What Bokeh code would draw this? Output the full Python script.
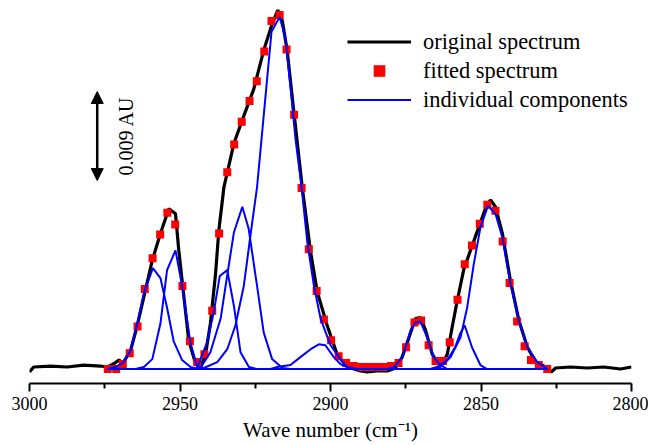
from math import pi
from bokeh.plotting import figure
from bokeh.models import Range1d, FixedTicker, Legend, LegendItem, Arrow, NormalHead, Label
from bokeh.embed import file_html
from bokeh.resources import INLINE

# ---------------- data (wavenumber cm-1, absorbance AU) ----------------
orig_wn = [3000.0, 2998.6, 2993.0, 2987.5, 2982.0, 2976.4, 2974.2, 2972.1, 2970.3, 2968.9,
           2966.4, 2964.2, 2962.0, 2959.2, 2956.5, 2953.7, 2951.5, 2950.4, 2948.7, 2947.1,
           2944.8, 2943.2, 2941.5, 2939.9, 2938.2, 2937.1, 2935.4, 2932.1, 2928.8, 2925.5,
           2922.2, 2919.4, 2917.5, 2916.0, 2914.4, 2912.2, 2909.4, 2906.6, 2904.4, 2901.1,
           2897.8, 2895.5, 2893.3, 2890.0, 2887.8, 2884.5, 2881.1, 2878.4, 2876.2, 2873.9,
           2871.8, 2870.1, 2868.4, 2866.2, 2864.5, 2862.9, 2861.2, 2859.6, 2857.9, 2855.7,
           2852.9, 2850.2, 2848.2, 2846.8, 2845.2, 2842.9, 2840.2, 2837.4, 2834.6, 2831.8,
           2828.5, 2826.7, 2825.2, 2820.3, 2814.7, 2809.2, 2803.7, 2800.0]
orig_abs = [-0.0003, 0.0002, 0.0003, 0.0002, 0.0004, 0.0003, 0.0002, 0.0005, 0.0009, 0.0006,
            0.0019, 0.0044, 0.0073, 0.0110, 0.0137, 0.0162, 0.0157, 0.0120, 0.0073, 0.0029,
            0.0005, 0.0001, 0.0015, 0.0046, 0.0096, 0.0140, 0.0184, 0.0228, 0.0256, 0.0283,
            0.0322, 0.0349, 0.0363, 0.0352, 0.0322, 0.0261, 0.0184, 0.0118, 0.0078, 0.0044,
            0.0015, 0.0006, 0.0001, -0.0002, -0.0003, -0.0002, -0.0002, 0.0001, 0.0012, 0.0032,
            0.0051, 0.0052, 0.0039, 0.0015, 0.0007, 0.0005, 0.0015, 0.0042, 0.0069, 0.0101,
            0.0125, 0.0148, 0.0165, 0.0171, 0.0164, 0.0137, 0.0089, 0.0049, 0.0022, 0.0007,
            0.0002, -0.0003, 0.0001, 0.0002, 0.0001, 0.0002, 0.0000, 0.0002]

fit_wn = [2974.0, 2971.2, 2969.0, 2966.7, 2964.1, 2961.7, 2959.1, 2956.6, 2954.2, 2951.6,
          2949.2, 2946.7, 2944.3, 2941.9, 2939.3, 2937.0, 2934.3, 2932.0, 2929.5, 2926.9,
          2924.5, 2922.0, 2919.6, 2916.9, 2914.6, 2912.1, 2909.6, 2907.2, 2904.6, 2902.2,
          2899.8, 2897.3, 2894.8, 2892.3, 2889.8, 2887.4, 2884.9, 2882.4, 2879.9, 2877.4,
          2874.9, 2872.1, 2869.9, 2867.4, 2865.1, 2862.6, 2860.4, 2857.8, 2855.4, 2853.0,
          2850.4, 2847.9, 2845.2, 2842.8, 2840.5, 2838.0, 2835.5, 2833.4, 2830.8, 2828.0]
fit_abs = [0.0000, 0.0000, 0.0005, 0.0016, 0.0043, 0.0081, 0.0112, 0.0136, 0.0158, 0.0146,
           0.0084, 0.0028, 0.0007, 0.0015, 0.0059, 0.0137, 0.0199, 0.0227, 0.0250, 0.0271,
           0.0291, 0.0321, 0.0352, 0.0358, 0.0323, 0.0257, 0.0183, 0.0121, 0.0079, 0.0050,
           0.0029, 0.0013, 0.0006, 0.0003, 0.0002, 0.0002, 0.0002, 0.0002, 0.0003, 0.0006,
           0.0022, 0.0047, 0.0049, 0.0024, 0.0008, 0.0008, 0.0027, 0.0070, 0.0106, 0.0125,
           0.0147, 0.0166, 0.0160, 0.0129, 0.0087, 0.0048, 0.0023, 0.0009, 0.0004, 0.0000]

comp1_wn = [2974.2, 2971.4, 2968.7, 2966.4, 2964.2, 2962.0, 2959.0, 2956.5, 2954.3, 2952.1, 2949.3, 2946.5, 2944.3, 2828.0]
comp1_abs = [0.0, 0.0002, 0.0007, 0.0019, 0.0046, 0.0077, 0.0102, 0.0092, 0.0062, 0.0028, 0.0009, 0.0002, 0.0, 0.0]

comp2_wn = [2974.1, 2964.8, 2962.0, 2959.2, 2956.5, 2954.3, 2951.5, 2949.3, 2946.5, 2944.3, 2941.9, 2828.0]
comp2_abs = [0.0, 0.0, 0.0002, 0.0010, 0.0046, 0.0100, 0.0120, 0.0084, 0.0026, 0.0002, 0.0, 0.0]

comp3_wn = [2974.1, 2946.5, 2944.3, 2941.0, 2938.8, 2936.8, 2934.3, 2932.1, 2929.9, 2927.1, 2924.6, 2828.0]
comp3_abs = [0.0, 0.0, 0.0001, 0.0027, 0.0057, 0.0094, 0.0100, 0.0064, 0.0017, 0.0002, 0.0, 0.0]

comp4_wn = [2974.1, 2944.3, 2943.2, 2939.9, 2936.5, 2934.6, 2932.1, 2929.3, 2927.2, 2924.4, 2922.2, 2919.4, 2916.0, 2913.3, 2828.0]
comp4_abs = [0.0, 0.0, 0.0001, 0.0017, 0.0051, 0.0089, 0.0138, 0.0164, 0.0142, 0.0084, 0.0037, 0.0010, 0.0001, 0.0, 0.0]

comp5_wn = [2974.1, 2944.3, 2942.1, 2937.6, 2934.3, 2931.6, 2928.8, 2926.6, 2924.4, 2919.6, 2916.9,
            2914.9, 2913.3, 2911.6, 2909.6, 2907.7, 2905.5, 2903.3, 2900.0, 2896.7, 2894.5, 2891.7, 2828.0]
comp5_abs = [0.0, 0.0, 0.0001, 0.0007, 0.0020, 0.0044, 0.0084, 0.0135, 0.0184, 0.0341, 0.0356,
             0.0334, 0.0285, 0.0232, 0.0184, 0.0128, 0.0084, 0.0051, 0.0024, 0.0010, 0.0002, 0.0, 0.0]

comp6_wn = [2974.1, 2919.9, 2917.7, 2913.3, 2910.0, 2906.6, 2903.9, 2901.7, 2898.9, 2896.7, 2894.5, 2891.7, 2828.0]
comp6_abs = [0.0, 0.0, 0.0002, 0.0004, 0.0012, 0.0020, 0.0025, 0.0024, 0.0012, 0.0005, 0.0002, 0.0, 0.0]

comp7_wn = [2974.1, 2881.1, 2878.9, 2876.1, 2873.4, 2871.8, 2870.1, 2867.9, 2865.7, 2863.5, 2861.2, 2828.0]
comp7_abs = [0.0, 0.0, 0.0002, 0.0012, 0.0039, 0.0047, 0.0048, 0.0032, 0.0012, 0.0004, 0.0, 0.0]

comp8_wn = [2974.1, 2866.8, 2864.6, 2861.2, 2858.6, 2856.9, 2855.4, 2853.0, 2850.2, 2848.0, 2828.0]
comp8_abs = [0.0, 0.0, 0.0002, 0.0009, 0.0022, 0.0036, 0.0044, 0.0022, 0.0004, 0.0, 0.0]

comp9_wn = [2974.1, 2865.8, 2863.5, 2860.1, 2856.8, 2854.6, 2852.4, 2850.2, 2847.7, 2845.2,
            2842.9, 2840.2, 2837.4, 2834.6, 2831.3, 2828.0]
comp9_abs = [0.0, 0.0, 0.0002, 0.0012, 0.0032, 0.0062, 0.0106, 0.0143, 0.0165, 0.0157,
             0.0133, 0.0086, 0.0049, 0.0022, 0.0007, 0.0]

x_ticks = [3000, 2950, 2900, 2850, 2800]
x_minor_ticks = [2975, 2925, 2875, 2825]

# scale bar (0.009 AU)
scale_x = 2977.5
scale_y0 = 0.01906
scale_len = 0.009
scale_label_x = 2968.1
scale_label = "0.009 AU"

components = [(comp1_wn, comp1_abs), (comp2_wn, comp2_abs), (comp3_wn, comp3_abs),
              (comp4_wn, comp4_abs), (comp5_wn, comp5_abs), (comp6_wn, comp6_abs),
              (comp7_wn, comp7_abs), (comp8_wn, comp8_abs), (comp9_wn, comp9_abs)]

SERIF = "Liberation Serif"

PX = 0.009 / 89.0          # absorbance per screen pixel (scale bar is 89 px tall)
y_lo = -14.5 * PX
y_hi = 360.5 * PX

p = figure(width=648, height=445, output_backend="svg", toolbar_location=None,
           x_range=Range1d(3000, 2800), y_range=Range1d(y_lo, y_hi),
           min_border_left=29, min_border_right=17, min_border_top=8, min_border_bottom=62,
           y_axis_location=None)
p.outline_line_color = None
p.grid.visible = False
p.background_fill_color = "white"

r_orig = p.line(orig_wn, orig_abs, line_color="black", line_width=3.2)
r_fit = p.scatter(fit_wn, fit_abs, marker="square", size=8, fill_color="#ff0000",
                  line_color="#ff0000", line_width=0)
r_comps = []
for wn, ab in components:
    r_comps.append(p.line(wn, ab, line_color="#0000ff", line_width=2))

ax = p.xaxis[0]
ax.ticker = FixedTicker(ticks=x_ticks, minor_ticks=x_minor_ticks)
ax.axis_line_width = 2
ax.axis_line_color = "black"
ax.major_tick_line_width = 2
ax.minor_tick_line_width = 2
ax.major_tick_out = 8
ax.major_tick_in = 0
ax.minor_tick_out = 5
ax.minor_tick_in = 0
ax.major_label_text_font = SERIF
ax.major_label_text_font_size = "18px"
ax.major_label_text_color = "black"
ax.major_label_standoff = 5
ax.axis_label = "Wave number (cm\u207b\u00b9)"
ax.axis_label_text_font = SERIF
ax.axis_label_text_font_size = "21px"
ax.axis_label_text_font_style = "normal"
ax.axis_label_text_color = "black"
ax.axis_label_standoff = 5

head = dict(size=12, fill_color="black", line_color="black")
p.add_layout(Arrow(start=NormalHead(**head), end=NormalHead(**head),
                   x_start=scale_x, y_start=scale_y0, x_end=scale_x, y_end=scale_y0 + scale_len,
                   line_width=2.5, line_color="black"))
p.add_layout(Label(x=scale_label_x, y=scale_y0 + scale_len / 2, text=scale_label, angle=pi / 2,
                   text_align="center", text_baseline="middle", text_font=SERIF,
                   text_font_size="20px", text_color="black"))

legend = Legend(items=[LegendItem(label="original spectrum", renderers=[r_orig]),
                       LegendItem(label="fitted spectrum", renderers=[r_fit]),
                       LegendItem(label="individual components", renderers=[r_comps[0]])],
                location=(318, 269), glyph_width=64, glyph_height=29, label_height=29,
                spacing=0, padding=0, margin=0, label_standoff=12,
                border_line_color=None, background_fill_alpha=0,
                label_text_font=SERIF, label_text_font_size="22.4px", label_text_color="black")
p.add_layout(legend)

open("out.html", "w").write(file_html(p, INLINE))
